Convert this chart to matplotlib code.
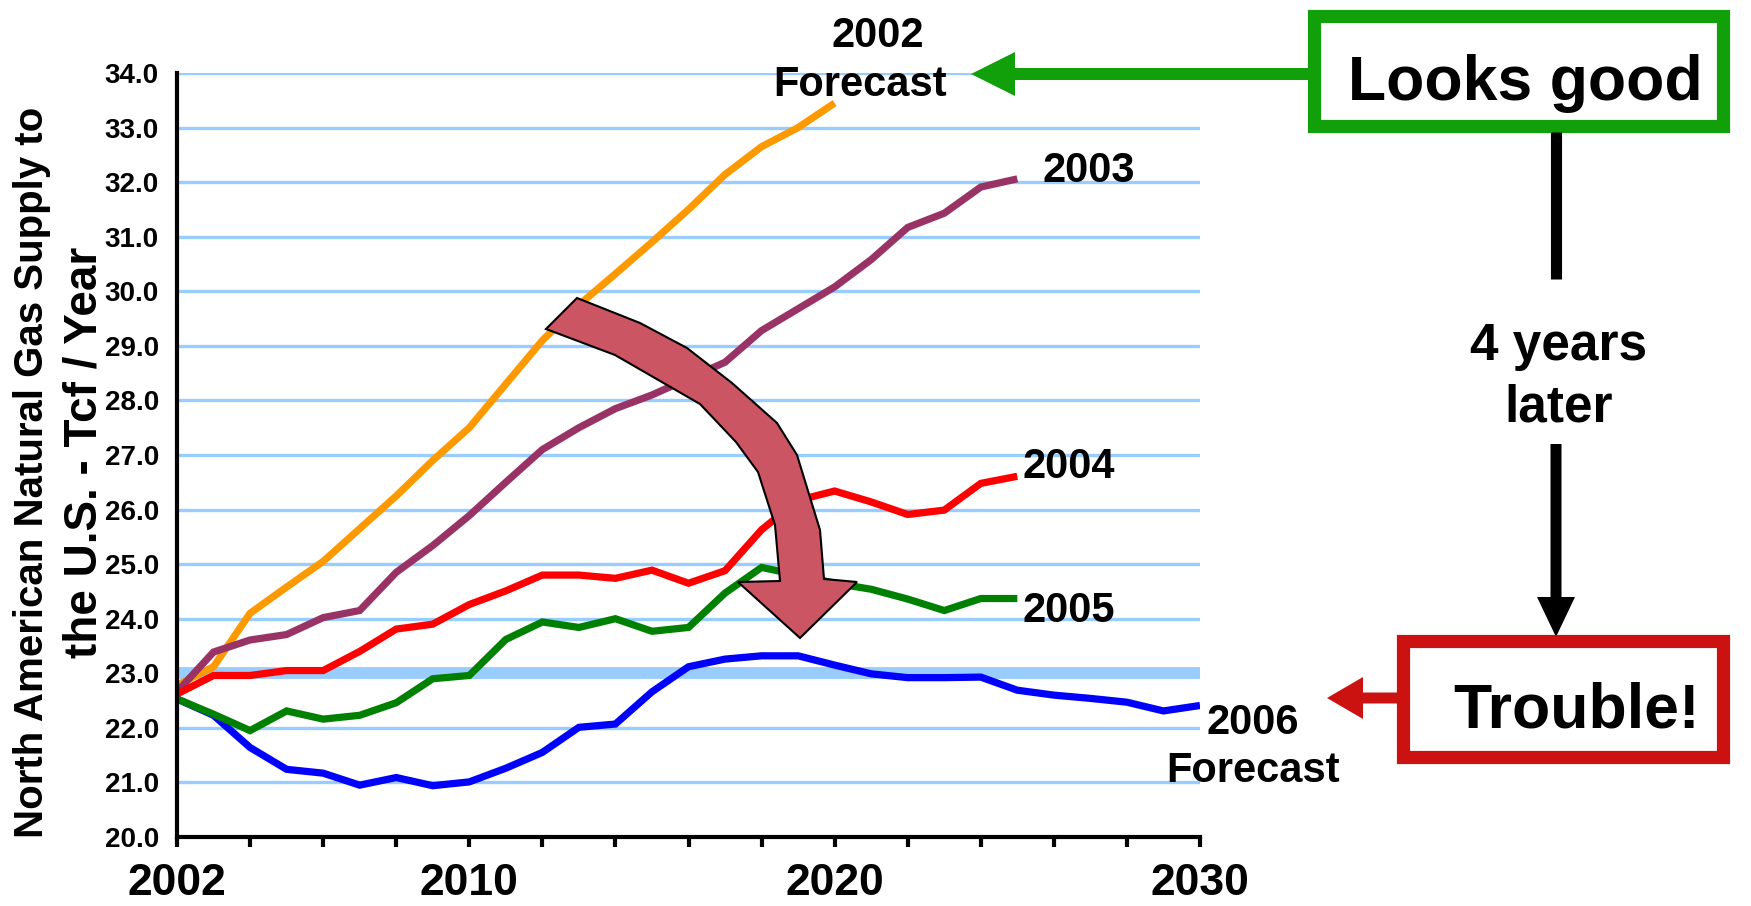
import matplotlib
matplotlib.use("Agg")
import matplotlib.pyplot as plt
from matplotlib.patches import Rectangle, Polygon, FancyArrow

plt.rcParams['font.family'] = ['Liberation Sans', 'DejaVu Sans']
plt.rcParams['font.weight'] = 'bold'

# ---- data: North American natural gas supply to the U.S. (Tcf / year) ----
years_2002 = list(range(2002, 2021))
forecast_2002 = [22.78, 23.12, 24.1, 24.58, 25.05, 25.65, 26.25, 26.9, 27.5, 28.3,
                 29.1, 29.75, 30.32, 30.9, 31.5, 32.14, 32.65, 33.0, 33.45]

years_mid = list(range(2002, 2026))
forecast_2003 = [22.66, 23.39, 23.61, 23.71, 24.02, 24.15, 24.85, 25.34, 25.89, 26.5,
                 27.1, 27.5, 27.85, 28.1, 28.4, 28.7, 29.28, 29.68, 30.08, 30.58,
                 31.17, 31.43, 31.91, 32.06]
forecast_2004 = [22.62, 22.96, 22.96, 23.05, 23.05, 23.4, 23.81, 23.9, 24.26, 24.51,
                 24.8, 24.8, 24.74, 24.89, 24.65, 24.88, 25.63, 26.17, 26.34, 26.14,
                 25.91, 25.99, 26.48, 26.61]
forecast_2005 = [22.53, 22.25, 21.95, 22.31, 22.16, 22.23, 22.46, 22.9, 22.96, 23.62,
                 23.94, 23.84, 24.0, 23.77, 23.84, 24.47, 24.94, 24.8, 24.65, 24.54,
                 24.36, 24.15, 24.37, 24.37]

years_2006 = list(range(2002, 2031))
forecast_2006 = [22.53, 22.23, 21.64, 21.24, 21.17, 20.95, 21.09, 20.94, 21.01, 21.26,
                 21.55, 22.01, 22.07, 22.66, 23.12, 23.26, 23.32, 23.32, 23.15, 22.99,
                 22.92, 22.92, 22.93, 22.69, 22.6, 22.54, 22.47, 22.31, 22.41]

y_ticks = [20, 21, 22, 23, 24, 25, 26, 27, 28, 29, 30, 31, 32, 33, 34]
x_ticks = list(range(2002, 2031, 2))
x_labelled = {2002: "2002", 2010: "2010", 2020: "2020", 2030: "2030"}

# ---- figure ----
W, H = 1751, 906
fig = plt.figure(figsize=(W / 100, H / 100), dpi=100)
fig.patch.set_facecolor("white")

ax = fig.add_axes([177 / W, 1 - 837 / H, (1200 - 177) / W, (837 - 73) / H])
ax.set_xlim(2002, 2030)
ax.set_ylim(20, 34)

grid_col = "#99CCFF"
for v in y_ticks[1:]:
    ax.axhline(v, color=grid_col, lw=2.4, zorder=1)
ax.axhline(23, color=grid_col, lw=8.5, zorder=1)

line_kw = dict(lw=5.2, solid_capstyle="butt", solid_joinstyle="miter", zorder=3)
ax.plot(years_2002, forecast_2002, color="#FF9900", **line_kw)
ax.plot(years_mid, forecast_2003, color="#993366", **line_kw)
ax.plot(years_2006, forecast_2006, color="#0000FF", **line_kw)
ax.plot(years_mid, forecast_2005, color="#008000", **line_kw)
ax.plot(years_mid, forecast_2004, color="#FF0000", **line_kw)

for s in ("top", "right"):
    ax.spines[s].set_visible(False)
for s in ("left", "bottom"):
    ax.spines[s].set_linewidth(3)
    ax.spines[s].set_color("black")
    ax.spines[s].set_zorder(4)

ax.set_yticks(y_ticks)
ax.set_yticklabels([f"{v:.1f}" for v in y_ticks], fontsize=20, fontweight="bold")
ax.tick_params(axis="y", length=0, pad=13)
ax.set_xticks(x_ticks)
ax.set_xticklabels([x_labelled.get(x, "") for x in x_ticks], fontsize=32, fontweight="bold")
ax.tick_params(axis="x", length=7, width=3, direction="out", pad=12)

# ---- overlay in pixel coordinates for titles and callouts ----
ov = fig.add_axes([0, 0, 1, 1], zorder=10)
ov.set_xlim(0, W)
ov.set_ylim(H, 0)
ov.axis("off")
ov.patch.set_alpha(0)

# two-line vertical axis title
ov.text(43, 472, "North American Natural Gas Supply to", rotation=90,
        rotation_mode="anchor", ha="center", va="baseline", fontsize=29, fontweight="bold")
ov.text(96, 452, "the U.S. - Tcf / Year", rotation=90,
        rotation_mode="anchor", ha="center", va="baseline", fontsize=33, fontweight="bold")

txt = dict(fontweight="bold", color="black")
ov.text(878, 47, "2002", ha="center", va="baseline", fontsize=30, **txt)
ov.text(860, 96, "Forecast", ha="center", va="baseline", fontsize=30, **txt)
ov.text(1042, 182, "2003", ha="left", va="baseline", fontsize=30, **txt)
ov.text(1022, 478, "2004", ha="left", va="baseline", fontsize=30, **txt)
ov.text(1022, 622, "2005", ha="left", va="baseline", fontsize=30, **txt)
ov.text(1253, 734, "2006", ha="center", va="baseline", fontsize=30, **txt)
ov.text(1253, 782, "Forecast", ha="center", va="baseline", fontsize=30, **txt)

# curved block arrow
bend = [(577, 298), (640, 323), (687, 348), (732, 383), (777, 423), (797, 455),
        (820, 530), (824, 579), (857, 582), (800, 638), (738, 582), (780, 581),
        (775, 525), (758, 472), (736, 442), (700, 404), (615, 355), (546, 329)]
ov.add_patch(Polygon(bend, closed=True, facecolor="#CC5564", edgecolor="black",
                     lw=1.5, joinstyle="miter"))

green = "#11A00A"
red = "#CC1111"

ov.add_patch(FancyArrow(1310, 74, 971 - 1310, 0, width=12, head_width=44, head_length=44,
                        length_includes_head=True, color=green, lw=0))
ov.add_patch(Rectangle((1313.5, 15.5), 409, 110, fill=True, facecolor="white",
                       edgecolor=green, lw=9.5, joinstyle="miter"))
ov.text(1525, 100, "Looks good", ha="center", va="baseline", fontsize=45, **txt)

ov.plot([1556, 1556], [132, 279], color="black", lw=8, solid_capstyle="butt")
ov.text(1559, 360, "4 years", ha="center", va="baseline", fontsize=37, **txt)
ov.text(1559, 422, "later", ha="center", va="baseline", fontsize=37, **txt)
ov.add_patch(FancyArrow(1556, 444, 0, 637 - 444, width=11, head_width=38, head_length=40,
                        length_includes_head=True, color="black", lw=0))

ov.add_patch(FancyArrow(1399, 698, 1327 - 1399, 0, width=11, head_width=42, head_length=36,
                        length_includes_head=True, color=red, lw=0))
ov.add_patch(Rectangle((1402.5, 640.5), 320, 116, fill=True, facecolor="white",
                       edgecolor=red, lw=9.5, joinstyle="miter"))
ov.text(1577, 728, "Trouble!", ha="center", va="baseline", fontsize=45, **txt)

fig.savefig("out.png", dpi=100, facecolor="white")
